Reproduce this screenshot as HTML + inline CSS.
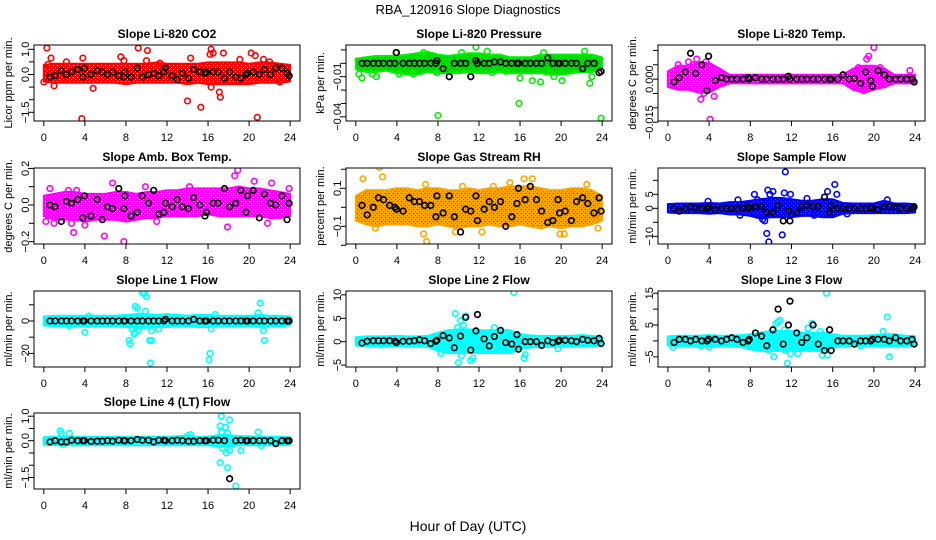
<!DOCTYPE html>
<html><head><meta charset="utf-8">
<style>
html,body{margin:0;padding:0;background:#fff;}
svg{display:block;font-family:"Liberation Sans",Arial,sans-serif;}
</style></head>
<body>
<svg id="chart" width="936" height="540" viewBox="0 0 936 540">
<text x="468" y="14" text-anchor="middle" font-size="13">RBA_120916  Slope Diagnostics</text>
<text x="468" y="531" text-anchor="middle" font-size="14">Hour of Day (UTC)</text>
</svg>
<script>
// ---------- shared data ----------
const hourTicks = [0,4,8,12,16,20,24];
const bandHours = [0,1,2,3,4,5,6,7,8,9,10,11,12,13,14,15,16,17,18,19,20,21,22,23,24];
const blackHours = [0.6,1.1,1.7,2.2,2.7,3.3,3.8,3.95,4.6,5.2,5.7,6.2,6.7,7.3,7.8,7.9,8.5,9.1,9.6,10.2,10.7,11.2,11.7,11.85,12.5,13.0,13.5,14.1,14.6,15.2,15.7,15.85,16.5,17.0,17.6,18.1,18.7,19.2,19.7,19.85,20.4,21.0,21.5,22.1,22.6,23.2,23.7,23.9];

// Panel 1: CO2
const co2Lo = [-0.2,-0.25,-0.25,-0.25,-0.25,-0.25,-0.25,-0.25,-0.3,-0.25,-0.25,-0.25,-0.25,-0.25,-0.3,-0.25,-0.3,-0.3,-0.3,-0.3,-0.3,-0.25,-0.25,-0.25,-0.2];
const co2Hi = [0.3,0.35,0.35,0.35,0.35,0.35,0.35,0.35,0.35,0.35,0.35,0.4,0.35,0.35,0.35,0.35,0.4,0.4,0.4,0.4,0.35,0.4,0.4,0.35,0.3];
const co2OutH = [0.3,0.4,0.7,0.0,1.0,2.2,3.7,3.8,4.8,7.5,7.8,9.2,10.1,10.0,11.3,14.0,14.3,15.3,16.3,16.2,16.5,16.3,17.1,17.2,17.5,19.1,20.2,20.6,20.8,21.4,23.0,22.0];
const co2OutV = [1.05,0.4,0.65,-0.3,-0.45,0.5,-1.75,0.65,-0.55,0.7,0.55,1.05,0.95,0.55,0.45,-1.05,0.65,-1.3,1.0,0.8,0.85,-0.5,-0.7,-0.9,0.85,0.6,0.85,0.75,-1.7,0.6,-0.3,0.5];
const co2Black = [-0.1,-0.05,0.15,0.0,0.1,0.2,-0.1,0.25,0.0,0.15,0.1,0.0,0.1,-0.05,-0.1,0.1,-0.1,0.25,-0.1,0.0,0.05,-0.05,0.1,0.25,-0.05,-0.2,0.05,-0.15,0.2,0.1,0.05,0.1,0.1,0.1,-0.15,0.1,-0.1,-0.15,0.0,0.05,0.1,0.0,0.2,0.0,0.25,0.25,0.05,-0.05];

// Panel 2: Pressure
const prLo = [-0.003,-0.005,-0.005,-0.004,-0.006,-0.007,-0.007,-0.005,-0.006,-0.006,-0.006,-0.005,-0.006,-0.006,-0.005,-0.006,-0.006,-0.006,-0.006,-0.007,-0.007,-0.006,-0.005,-0.005,-0.003];
const prHi = [0.002,0.003,0.004,0.004,0.004,0.005,0.006,0.007,0.005,0.004,0.005,0.006,0.006,0.005,0.005,0.003,0.003,0.003,0.005,0.005,0.005,0.005,0.005,0.005,0.003];
const prOutH = [8.0,15.9,23.9,11.7,22.3,10.3,6.6,18.3,12.8,0.6,1.6,2.0,16.0,17.2,18.0,20.1,22.8,23.0,19.3,4.2,5.6,13.3,14.6,7.9,3.9,0.3];
const prOutV = [-0.039,-0.030,-0.041,0.012,0.009,0.008,0.008,0.008,0.009,-0.011,-0.008,-0.010,-0.011,-0.013,-0.014,-0.013,-0.015,-0.010,-0.010,-0.008,-0.008,-0.007,-0.006,-0.007,0.008,-0.008];
const prBlack = [0,0,0,0,0,0,0,0.008,0,0,0,0,0,0,0,0.002,-0.004,-0.010,0,0,0,-0.010,0.002,0,0,0,0.001,0.001,0,0,0,0,0,0,0,0,0.004,0,0,0,0,0,0,-0.004,0,0,-0.007,-0.006];

// Panel 3: Li-820 Temp
const tLo = [-0.002,-0.003,-0.003,-0.004,-0.004,-0.002,-0.0008,-0.0008,-0.0008,-0.0008,-0.0008,-0.0008,-0.0008,-0.0008,-0.0008,-0.0008,-0.0008,-0.0008,-0.003,-0.004,-0.003,-0.002,-0.0008,-0.0008,-0.0008];
const tHi = [0.002,0.004,0.004,0.005,0.005,0.003,0.0008,0.0008,0.0008,0.0008,0.0008,0.0008,0.0008,0.0008,0.0008,0.0008,0.0008,0.0008,0.003,0.004,0.004,0.003,0.0008,0.0008,0.0008];
const tOutH = [4.1,3.2,4.5,20.0,19.5,19.3,2.8,2.0,3.7,1.0,18.5,20.6,23.5,19.0,21.0,0.8,3.5,2.4];
const tOutV = [-0.014,-0.007,-0.006,0.011,0.008,0.007,0.007,0.006,0.006,0.005,0.004,0.004,0.003,-0.004,-0.002,-0.002,-0.005,0.005];
const tBlack = [-0.001,0.0005,0.0025,0.009,0.002,0.005,-0.004,0.008,-0.0005,0.0005,0,0,0,0,0.0005,0,0.0005,0,0,0,0,0,0.001,0,0,0,0,0,0,0,0,0,0,0.0015,0,0.0003,-0.0015,0.0025,-0.0005,-0.0025,0.003,0.0015,0,0,0,0,0,-0.001];

// Panel 4: Amb. Box Temp
const abLo = [-0.05,-0.07,-0.07,-0.07,-0.08,-0.07,-0.07,-0.07,-0.08,-0.07,-0.06,-0.06,-0.05,-0.05,-0.05,-0.05,-0.04,-0.05,-0.05,-0.05,-0.05,-0.05,-0.06,-0.06,-0.05];
const abHi = [0.04,0.05,0.06,0.06,0.05,0.05,0.05,0.06,0.06,0.05,0.06,0.06,0.07,0.07,0.08,0.08,0.08,0.08,0.08,0.09,0.08,0.08,0.07,0.06,0.05];
const abOutH = [7.8,5.9,2.9,18.9,18.6,6.7,0.6,2.4,17.9,0.2,1.0,23.9,20.5,22.2,14.2,9.9,4.0,2.7,21.8,11.0,3.2];
const abOutV = [-0.2,-0.17,-0.15,0.19,0.16,0.12,0.09,0.08,-0.12,-0.09,-0.1,0.09,0.13,0.12,0.1,0.1,-0.11,-0.1,-0.1,-0.09,0.08];
const abBlack = [0.0,-0.01,-0.09,0.02,0.01,0.03,-0.07,0.05,-0.06,0.03,-0.08,-0.01,-0.02,0.09,-0.02,0.05,-0.06,-0.04,0.05,0.01,0.08,-0.05,-0.04,0.01,-0.01,0.03,-0.01,-0.02,0.04,0.0,-0.06,-0.04,0.01,0.01,0.09,-0.01,0.01,0.08,-0.04,0.05,0.08,-0.07,0.06,0.01,0.0,0.05,-0.08,0.01];

// Panel 5: Gas Stream RH
const rhLo = [-0.06,-0.08,-0.09,-0.08,-0.08,-0.08,-0.09,-0.09,-0.08,-0.09,-0.1,-0.09,-0.09,-0.08,-0.09,-0.09,-0.08,-0.09,-0.1,-0.09,-0.1,-0.09,-0.09,-0.08,-0.06];
const rhHi = [0.05,0.08,0.08,0.08,0.09,0.09,0.08,0.09,0.09,0.08,0.08,0.09,0.08,0.09,0.09,0.1,0.1,0.1,0.09,0.08,0.08,0.09,0.09,0.08,0.05];
const rhOutH = [2.3,2.6,0.7,6.8,10.4,6.6,6.9,12.3,19.9,23.6,16.4,17.2,13.4,22.5,15.0,1.9,20.3,9.7];
const rhOutV = [0.21,0.16,0.15,0.12,0.11,-0.14,-0.18,-0.13,-0.14,-0.11,0.15,0.15,0.11,0.12,0.13,-0.11,-0.14,-0.13];
const rhBlack = [0.01,-0.04,0.0,0.05,0.04,0.01,0.0,-0.01,-0.02,0.05,0.03,0.03,0.01,0.01,-0.05,0.06,-0.03,0.06,-0.05,-0.13,-0.01,-0.02,0.06,-0.07,-0.01,0.03,0.0,0.03,-0.1,-0.05,0.02,0.1,0.04,0.11,0.04,-0.02,-0.08,-0.07,0.04,-0.03,-0.02,-0.07,0.03,0.05,0.02,-0.03,0.05,-0.02];

// Panel 6: Sample Flow
const sfLo = [-0.8,-1,-1,-1,-1.2,-1,-1.5,-1.5,-2,-3,-2.5,-2.5,-2.5,-2,-2,-2.5,-2.5,-1.2,-1,-1,-1,-1,-1,-1,-0.8];
const sfHi = [0.8,1,1,1,1.2,1,1.5,1.5,2,2.5,3,3,2.5,2,2,2.5,2.5,1.2,1,1,1,2,1,1,0.8];
const sfOutH = [11.4,16.2,15.5,9.7,10.2,9.9,8.4,11.3,11.9,13.5,16.4,3.9,6.8,21.3,9.6,9.8,11.1,9.2,9.4,7.0,17.4,8.7,14.2];
const sfOutV = [13,8.5,6,6.5,6,5,5,5.5,5,3.5,5,2.5,3,3,-9,-12,-9.5,-4,-4.5,-2.5,-2,3,-2.5];
const sfBlack = [0,-1,0,0.5,0,0,0,0.5,-0.5,0,0,0,0,0,0.5,0,0.5,0.5,-1.5,-1.5,1,-4.5,-1,-4.5,-1.5,0.5,1,0.5,0.5,4,-1.5,1,0,0,0,0,0,0,0,0,-0.5,0.5,0.5,0.5,0,0,0,0.5];

// Panel 7: Line 1 Flow
const l1Lo = [-1.5,-2,-2,-2,-2,-2,-2,-2,-2.5,-3,-3,-2.5,-2.5,-2,-2,-2.5,-2.5,-2,-2,-2,-2,-2.5,-2,-2,-1.5];
const l1Hi = [1.5,2,2,2,2,2,2,2,2.5,3,3,2.5,3,2.5,2,2.5,2.5,2,2,2,2,2.5,2,2,1.5];
const l1OutH = [9.6,9.8,10.0,8.9,9.1,9.9,9.3,8.6,8.8,8.9,8.3,8.4,9.2,10.3,10.5,10.4,16.1,16.2,16.3,10.5,11.2,4.0,21.1,20.9,21.4,21.5,16.7,4.4,12.1,2.5];
const l1OutV = [17.5,17,15,9,8,6,3,-5,-8,-7,-12,-14,-6,-12,-12,-26,-24,-20,-5,-6,-5,-7,11,5,-6,-12,4,3,2,-3];
const l1Black = [0,0,0,0,0,0,0,0,0,0,0,0,0,0,0,0,0,0,0,0,0,0,0,1,0,0,0,0,1,0,0,0,0,0,0,0,0,0,0,0,0,0,0,0,0,0,0,0];

// Panel 8: Line 2 Flow
const l2Lo = [-0.4,-0.5,-0.5,-0.5,-0.6,-0.6,-0.6,-0.7,-1.5,-2,-2,-2,-2,-2,-2,-2,-1.2,-0.8,-0.7,-0.7,-0.6,-0.6,-0.5,-0.5,-0.4];
const l2Hi = [0.5,0.7,0.7,0.7,0.8,0.7,0.7,0.8,1.5,2,2.2,2.2,2,2,2,2,1.2,0.9,0.8,0.8,0.8,0.8,1,0.8,0.5];
const l2OutH = [15.4,9.7,10.7,10.2,10.5,9.9,13.5,14.7,8.8,8.3,10.0,10.3,11.2,11.4,16.4,16.5,13.6,19.7,8.6,12.1,2.5];
const l2OutV = [10.5,6,5.5,4.5,3.5,3,3,2,1.8,-2.5,-4.5,-3,-4,-3.5,-3.5,-2.8,-1.5,-1.5,-1.8,-1.8,-0.7];
const l2Black = [-0.3,0.1,0.2,0.2,0.2,0.2,0.1,-0.2,0.1,0.1,0.2,0.4,0.2,-0.4,0.1,0.3,1.3,0.8,-1.3,1.2,5.2,-1.8,2.3,5.8,0.6,-0.9,1.1,2.4,-0.2,-0.5,1.5,-1.6,0,0,0,-0.8,0.2,-0.2,0.1,0.3,0.3,0.2,0,0.5,0.3,0.2,0.7,-0.4];

// Panel 9: Line 3 Flow
const l3Lo = [-0.8,-1,-1,-1,-1.2,-1,-1,-1.2,-2,-2.5,-2.5,-2.5,-2.5,-2.5,-2.5,-2.5,-1.5,-1,-1,-1,-1,-1,-1,-1,-0.8];
const l3Hi = [0.8,1,1,1,1.2,1,1,1.2,1.5,2,2.5,2.5,2.5,2,2,2,1.5,1,1,1,1.2,1.5,1.5,1,0.8];
const l3OutH = [15.4,21.3,10.7,10.5,10.9,11.3,14.0,14.8,13.6,9.8,10.3,11.6,11.4,11.9,12.6,15.0,15.5,21.5,0.5,4.0,20.9,3.2,18.7];
const l3OutV = [15,7.5,6,5.5,6.5,3.5,5.5,3,4,-3,-5,-7,-3,-4,-4,-4.5,-4.5,-5,-2,-2,3,-1.5,-1.5];
const l3Black = [-0.5,0.5,0.5,0,0.5,0,0,0.5,0.5,0,0.5,1,0.5,-0.5,0,0.5,2.5,1.5,-1.5,3.5,10,-1,5,12.5,2.5,-0.5,1,5,-1,-3,3.5,-3,0,0,0,-1,0,0,0,0.5,0.5,0.5,0,1,0,0,0.5,-1];

// Panel 10: Line 4 (LT) Flow
const l4Lo = [-0.08,-0.1,-0.1,-0.1,-0.1,-0.1,-0.1,-0.1,-0.1,-0.1,-0.1,-0.1,-0.1,-0.1,-0.1,-0.1,-0.1,-0.15,-0.15,-0.1,-0.1,-0.1,-0.1,-0.1,-0.08];
const l4Hi = [0.06,0.08,0.1,0.08,0.08,0.08,0.08,0.08,0.08,0.08,0.08,0.08,0.08,0.1,0.12,0.08,0.08,0.15,0.15,0.1,0.1,0.08,0.08,0.08,0.06];
const l4OutH = [17.3,17.2,17.7,18.1,17.3,17.9,1.6,1.7,2.5,20.9,17.4,17.2,17.8,17.9,18.1,18.7,19.2,21.2,14.0,14.3,1.9];
const l4OutV = [1.0,0.6,0.55,0.85,0.35,0.3,0.4,0.3,0.3,0.35,-0.3,-0.9,-0.5,-1.1,-0.4,-1.85,-0.4,-0.2,0.2,0.25,-0.15];
const l4Black = [-0.05,0,-0.05,-0.05,0.02,0,0,0,-0.03,-0.02,-0.02,0,-0.02,0.02,0,0,0,0.05,0.02,0.02,-0.05,0.02,0.02,0,0,0.02,0,-0.02,-0.02,0,0,0,0.02,0.02,0,-1.55,0,0.02,0,0,0,0,0,0,-0.12,0,0,0];

// ---------- panel configuration ----------
const panels = [
 {name:'co2', title:'Slope Li-820 CO2', ylab:'Licor ppm per min.', col:'#ff0000', band:'#ff0000', dot:'#ffffff', box:[34,45,300,121], dom:[-1.845,1.17], ticks:[1.0,0.5,0,-0.5,-1.0,-1.5], tl:['1.0','','0.0','','','\u22121.5'], lo:co2Lo, hi:co2Hi, oh:co2OutH, ov:co2OutV, bk:co2Black},
 {name:'pressure', title:'Slope Li-820 Pressure', ylab:'kPa per min.', col:'#00ee00', band:'#00e000', dot:'#006000', box:[346,45,612,121], dom:[-0.0431,0.01366], ticks:[0.01,0,-0.01,-0.02,-0.03,-0.04], tl:['','','\u22120.01','','','\u22120.04'], lo:prLo, hi:prHi, oh:prOutH, ov:prOutV, bk:prBlack},
 {name:'li820-temp', title:'Slope Li-820 Temp.', ylab:'degrees C per min.', col:'#ff00ff', band:'#ff00ff', dot:'#ffffff', box:[658,45,925,121], dom:[-0.01458,0.01189], ticks:[0.01,0.005,0,-0.005,-0.01,-0.015], tl:['','','0.000','','','\u22120.015'], lo:tLo, hi:tHi, oh:tOutH, ov:tOutV, bk:tBlack},
 {name:'amb-box-temp', title:'Slope Amb. Box Temp.', ylab:'degrees C per min.', col:'#ff00ff', band:'#ff00ff', dot:'#ffffff', box:[34,168,300,244], dom:[-0.2131,0.2022], ticks:[0.2,0.1,0,-0.1,-0.2], tl:['0.2','','0.0','','\u22120.2'], lo:abLo, hi:abHi, oh:abOutH, ov:abOutV, bk:abBlack},
 {name:'gas-stream-rh', title:'Slope Gas Stream RH', ylab:'percent per min.', col:'#ffa500', band:'#ffa500', dot:'#ff0000', box:[346,168,612,244], dom:[-0.1932,0.2068], ticks:[0.2,0.1,0,-0.1,-0.2], tl:['','0.1','','\u22120.1',''], lo:rhLo, hi:rhHi, oh:rhOutH, ov:rhOutV, bk:rhBlack},
 {name:'sample-flow', title:'Slope Sample Flow', ylab:'ml/min per min.', col:'#0000ff', band:'#0000ff', dot:'#6060ff', box:[658,168,925,244], dom:[-12.75,14.4], ticks:[10,5,0,-5,-10], tl:['','5','0','','\u221210'], lo:sfLo, hi:sfHi, oh:sfOutH, ov:sfOutV, bk:sfBlack},
 {name:'line1-flow', title:'Slope Line 1 Flow', ylab:'ml/min per min.', col:'#00ffff', band:'#00ffff', dot:'#c0ffff', box:[34,291,300,367], dom:[-28.4,18.5], ticks:[10,0,-10,-20], tl:['','0','','\u221220'], lo:l1Lo, hi:l1Hi, oh:l1OutH, ov:l1OutV, bk:l1Black},
 {name:'line2-flow', title:'Slope Line 2 Flow', ylab:'ml/min per min.', col:'#00ffff', band:'#00ffff', dot:'#c0ffff', box:[346,291,612,367], dom:[-5.41,10.83], ticks:[10,5,0,-5], tl:['10','5','0','\u22125'], lo:l2Lo, hi:l2Hi, oh:l2OutH, ov:l2OutV, bk:l2Black},
 {name:'line3-flow', title:'Slope Line 3 Flow', ylab:'ml/min per min.', col:'#00ffff', band:'#00ffff', dot:'#c0ffff', box:[658,291,925,367], dom:[-8.2,15.7], ticks:[15,10,5,0,-5], tl:['15','','5','','\u22125'], lo:l3Lo, hi:l3Hi, oh:l3OutH, ov:l3OutV, bk:l3Black},
 {name:'line4-flow', title:'Slope Line 4 (LT) Flow', ylab:'ml/min per min.', col:'#00ffff', band:'#00ffff', dot:'#c0ffff', box:[34,413,300,489], dom:[-1.97,1.13], ticks:[1.0,0.5,0,-0.5,-1.0,-1.5], tl:['1.0','','0.0','','','\u22121.5'], lo:l4Lo, hi:l4Hi, oh:l4OutH, ov:l4OutV, bk:l4Black}
];

const NS = 'http://www.w3.org/2000/svg';
const svg = document.getElementById('chart');
function mk(tag, attrs, parent){
  const e = document.createElementNS(NS, tag);
  for (const k in attrs) e.setAttribute(k, attrs[k]);
  parent.appendChild(e);
  return e;
}
const defs = mk('defs', {}, svg);

panels.forEach(p => {
  const [L,T,R,B] = p.box;
  const xs = h => L + (R-L) * (h + 0.96) / 25.92;
  const ys = v => B - (B-T) * (v - p.dom[0]) / (p.dom[1]-p.dom[0]);
  const g = mk('g', {}, svg);
  
  

  // speckle pattern mimicking overplotted open circles
  const patId = 'pat-' + p.name;
  const pat = mk('pattern', {id: patId, width: 4, height: 4, patternUnits: 'userSpaceOnUse'}, defs);
  mk('rect', {x:0, y:0, width:4, height:4, fill:p.band}, pat);
  mk('rect', {x:1, y:1, width:1, height:1, fill:p.dot}, pat);
  mk('rect', {x:3, y:3, width:1, height:1, fill:p.dot, opacity:0.6}, pat);

  const clipId = 'clip-' + p.name;
  const cp = mk('clipPath', {id: clipId}, defs);
  mk('rect', {x:L, y:T, width:R-L, height:B-T}, cp);
  const plot = mk('g', {'clip-path':'url(#'+clipId+')'}, g);

  // dense band
  let pts = [];
  bandHours.forEach((h,i) => pts.push(xs(h).toFixed(1)+','+(ys(p.hi[i])-2).toFixed(1)));
  for (let i = bandHours.length-1; i >= 0; i--) pts.push(xs(bandHours[i]).toFixed(1)+','+(ys(p.lo[i])+2).toFixed(1));
  const band = mk('polygon', {points: pts.join(' '), fill: 'url(#'+patId+')', stroke: p.col, 'stroke-width': 2, 'stroke-linejoin':'round'}, plot);
  
  

  // outliers
  p.oh.forEach((h,i) => {
    const c = mk('circle', {cx: xs(h), cy: ys(p.ov[i]), r: 2.8, fill: 'none', stroke: p.col, 'stroke-width': 1.6}, plot);
    
    
  });
  // black points
  blackHours.forEach((h,i) => {
    const c = mk('circle', {cx: xs(h), cy: ys(p.bk[i]), r: 2.8, fill: 'none', stroke: '#000', 'stroke-width': 1.7}, plot);
    
    
  });

  // box
  const box = mk('rect', {x:L, y:T, width:R-L, height:B-T, fill:'none', stroke:'#000', 'stroke-width':1}, g);
  
  

  // title
  const t = mk('text', {x:(L+R)/2, y:T-7, 'text-anchor':'middle', 'font-size':12, 'font-weight':'bold'}, g);
  t.textContent = p.title;
  
  

  // x axis
  mk('line', {x1:xs(0), x2:xs(24), y1:B, y2:B, stroke:'#000'}, g);
  hourTicks.forEach(h => {
    mk('line', {x1:xs(h), x2:xs(h), y1:B, y2:B+5, stroke:'#000'}, g);
    const tx = mk('text', {x:xs(h), y:B+20, 'text-anchor':'middle', 'font-size':11}, g);
    tx.textContent = h;
    
    
  });

  // y axis
  const yt0 = ys(p.ticks[0]), yt1 = ys(p.ticks[p.ticks.length-1]);
  mk('line', {x1:L, x2:L, y1:yt0, y2:yt1, stroke:'#000'}, g);
  p.ticks.forEach((v,i) => {
    const yy = ys(v);
    mk('line', {x1:L-5, x2:L, y1:yy, y2:yy, stroke:'#000'}, g);
    if (p.tl[i]) {
      const ty = mk('text', {x:L-5, y:yy, 'text-anchor':'middle', 'font-size':11, transform:'rotate(-90 '+(L-5)+' '+yy+')'}, g);
      ty.textContent = p.tl[i];
      
      
    }
  });
  const cy = (T+B)/2, lx = L-22;
  const yl = mk('text', {x:lx, y:cy, 'text-anchor':'middle', 'font-size':11, transform:'rotate(-90 '+lx+' '+cy+')'}, g);
  yl.textContent = p.ylab;
  
  
});
</script>
</body></html>
